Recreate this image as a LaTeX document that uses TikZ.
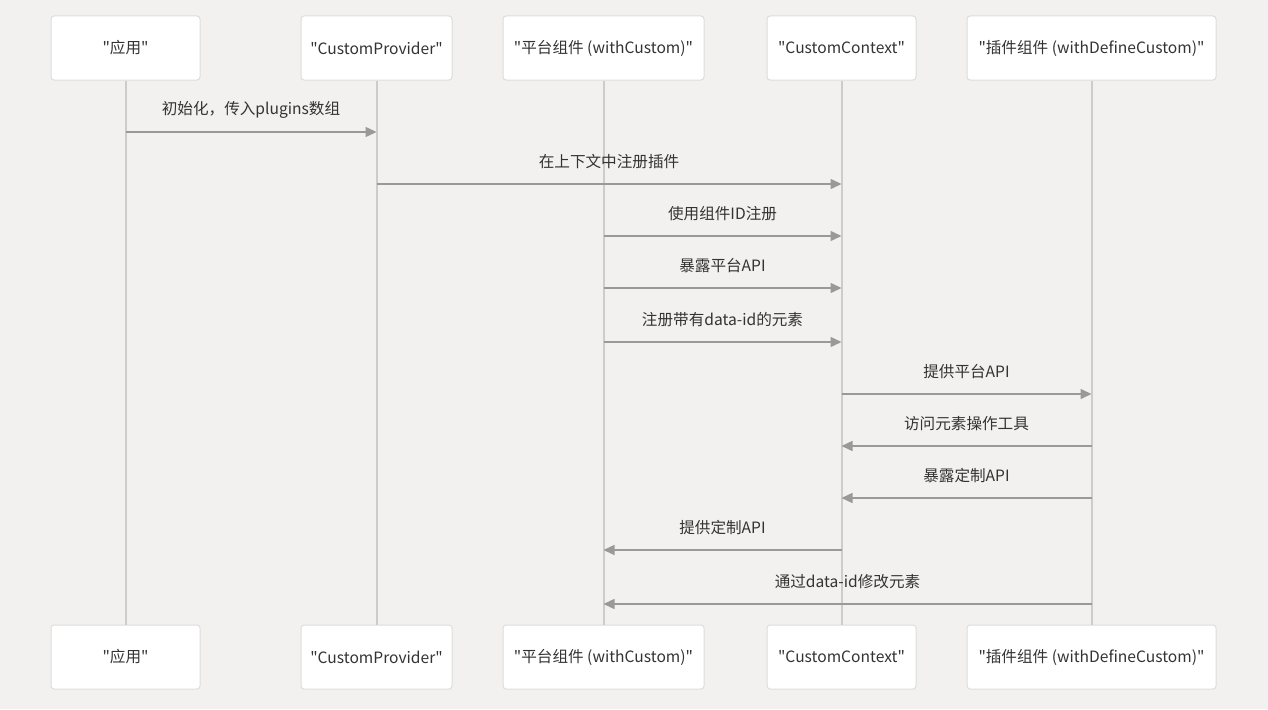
\documentclass[tikz,border=0pt]{standalone}
\usepackage{fontspec}
\setmainfont{Noto Sans CJK SC}[Ligatures=TeXOff]
\usepackage{tikz}
\usetikzlibrary{arrows.meta}

\definecolor{bgcol}{HTML}{F2F1EF}
\definecolor{linecol}{HTML}{CCCCCC}
\definecolor{msgcol}{HTML}{999999}
\definecolor{txtcol}{HTML}{333333}
\definecolor{boxline}{HTML}{DDDDDD}

\begin{document}
\begin{tikzpicture}[x=1pt,y=-1pt,
    actor/.style={draw=boxline,fill=white,rounded corners=3pt,line width=1pt,
        minimum height=64pt,text=txtcol,font=\fontsize{15.6}{18}\selectfont},
    life/.style={draw=linecol,line width=2pt},
    msg/.style={draw=msgcol,line width=1.5pt,-{Triangle[length=11pt,width=10pt]}},
    lbl/.style={midway,yshift=22pt,text=txtcol,font=\fontsize{15.6}{18}\selectfont}]
    \fill[bgcol] (0,0) rectangle (1268,709);
    \useasboundingbox (0,0) rectangle (1268,709);
    % actors on top
    \node[actor,minimum width=149pt] (app) at (125.5,48) {"应用"};
    \node[actor,minimum width=151pt] (provider) at (376.5,48) {"CustomProvider"};
    \node[actor,minimum width=201pt] (platform) at (603.5,48) {"平台组件 (withCustom)"};
    \node[actor,minimum width=149pt] (context) at (841.5,48) {"CustomContext"};
    \node[actor,minimum width=249pt] (plugin) at (1091.5,48) {"插件组件 (withDefineCustom)"};
    % actors at bottom
    \node[actor,minimum width=149pt] (appB) at (125.5,657) {"应用"};
    \node[actor,minimum width=151pt] (providerB) at (376.5,657) {"CustomProvider"};
    \node[actor,minimum width=201pt] (platformB) at (603.5,657) {"平台组件 (withCustom)"};
    \node[actor,minimum width=149pt] (contextB) at (841.5,657) {"CustomContext"};
    \node[actor,minimum width=249pt] (pluginB) at (1091.5,657) {"插件组件 (withDefineCustom)"};
    % lifelines
    \foreach \a in {app,provider,platform,context,plugin}
        \draw[life] (\a.south) -- (\a B.north);
    % messages
    \draw[msg] (app |- 0,132) -- node[lbl] {初始化，传入plugins数组} (provider |- 0,132);
    \draw[msg] (provider |- 0,184) -- node[lbl] {在上下文中注册插件} (context |- 0,184);
    \draw[msg] (platform |- 0,236) -- node[lbl] {使用组件ID注册} (context |- 0,236);
    \draw[msg] (platform |- 0,288) -- node[lbl] {暴露平台API} (context |- 0,288);
    \draw[msg] (platform |- 0,342) -- node[lbl] {注册带有data-id的元素} (context |- 0,342);
    \draw[msg] (context |- 0,394) -- node[lbl] {提供平台API} (plugin |- 0,394);
    \draw[msg] (plugin |- 0,446) -- node[lbl] {访问元素操作工具} (context |- 0,446);
    \draw[msg] (plugin |- 0,498) -- node[lbl] {暴露定制API} (context |- 0,498);
    \draw[msg] (context |- 0,550) -- node[lbl] {提供定制API} (platform |- 0,550);
    \draw[msg] (plugin |- 0,604) -- node[lbl] {通过data-id修改元素} (platform |- 0,604);
\end{tikzpicture}
\end{document}
